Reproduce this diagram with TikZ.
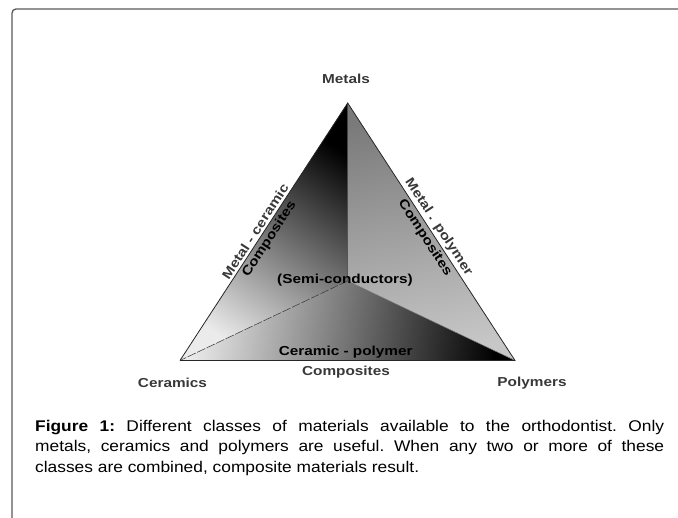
\documentclass[tikz,border=0pt]{standalone}
\usepackage{fontspec}
\setmainfont{Liberation Sans}
\newfontfamily\lblfont[FakeStretch=1.18]{Liberation Sans}
\newfontfamily\capfont[FakeStretch=1.12]{Liberation Sans}
\begin{document}
\begin{tikzpicture}[x=1pt,y=1pt,
  lbl/.style={font=\lblfont\bfseries\fontsize{13}{14}\selectfont, text=black!78, inner sep=2.2pt},
  inlbl/.style={lbl, text=black},
  frameline/.style={draw=black!65, line width=1.3pt, rounded corners=4pt},
  edge/.style={draw=black!85, line width=0.8pt},
  inner/.style={draw=black!80, line width=0.5pt},
  captext/.style={anchor=north west, inner sep=0pt, text width=629pt, align=justify,
    font=\capfont\fontsize{15.5}{20.5}\selectfont\frenchspacing}]
\useasboundingbox (0,0) rectangle (678,-518);
% frame
\draw[frameline] (12,-520) -- (12,-9) -- (680,-9);
% vertices
\coordinate (M) at (347.7,-103);
\coordinate (C) at (180,-360.5);
\coordinate (P) at (515,-360.5);
\coordinate (O) at (347.5,-281);
% shaded regions
\shade[top color=black, middle color=black!36, bottom color=black!8, shading angle=-35]
  (M) -- (O) -- (C) -- cycle;
\shade[top color=black!52, middle color=black!7, bottom color=black!22, shading angle=12]
  (M) -- (P) -- (O) -- cycle;
\shade[shading=axis, top color=black!8, middle color=black!34, bottom color=black, shading angle=82]
  (C) -- (O) -- (P) -- cycle;
% inner lines
\draw[inner] (M) -- (O);
\draw[inner, dash pattern=on 9pt off 1.5pt] (O) -- (C);
\draw[inner, draw=black!55] (O) -- (P);
% outline with edge labels
\draw[edge] (C)
  -- node[lbl, sloped, above, pos=0.485] (mc) {Metal - ceramic}
     node[inlbl, sloped, below, pos=0.49] (mcc) {Composites} (M)
  -- node[lbl, sloped, above, pos=0.5] (mp) {Metal . polymer}
     node[inlbl, sloped, below, pos=0.505] (mpc) {Composites} (P)
  -- (C);
% labels
\node[lbl] (metals) at (346,-79) {Metals};
\node[lbl] (ceramics) at (172.5,-382.5) {Ceramics};
\node[lbl] (polymers) at (532,-383) {Polymers};
\node[inlbl] (semi) at (345,-280) {(Semi-conductors)};
\node[inlbl] (cp) at (345.7,-352.5) {Ceramic - polymer};
\node[lbl] (cpc) at (346,-372.5) {Composites};
% caption
\node[captext] (caption) at (35,-420) {\textbf{Figure 1:} Different classes of materials available to the orthodontist. Only\linebreak metals, ceramics and polymers are useful. When any two or more of these\linebreak classes are combined, composite materials result.};
\end{tikzpicture}
\end{document}
